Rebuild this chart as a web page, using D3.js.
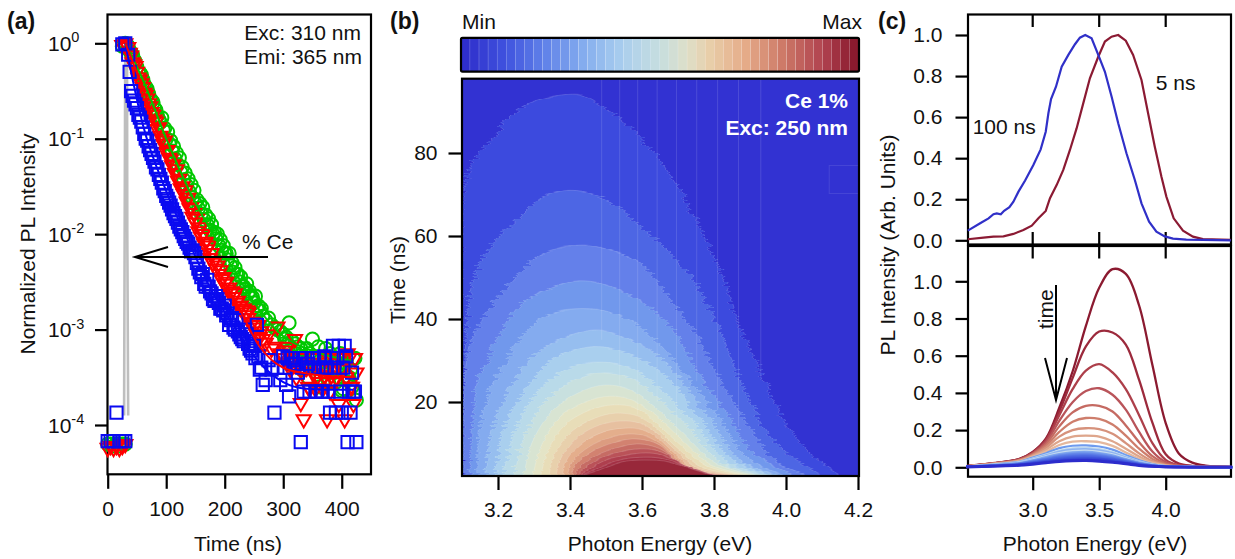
<!DOCTYPE html>
<html><head><meta charset="utf-8">
<script src="https://d3js.org/d3.v7.min.js"></script>
<style>html,body{margin:0;padding:0;background:#fff}svg{display:block}
text{font-family:"Liberation Sans",Arial,sans-serif;fill:#111}</style></head>
<body><svg id="c" width="1235" height="559"></svg>
<script>
// ---------- panel (a) ----------
const decayTimes=[25,30,35,40,45,50,55,60,65,70,75,80,85,90,95,100,105,110,115,120,125,130,135,140,145,150,155,160,165,170,175,180,185,190,195,200,205,210,215,220,225,230,235,240,245,250,255,260,265,270,275,280,285,290,295,300,305,310,315,320,325,330,335,340,345,350,355,360,365,370,375,380,385,390,395,400,405,410,415,420,425];
const greenLog=[-.03,0,-.03,-.1,-.17,-.25,-.31,-.38,-.46,-.53,-.6,-.68,-.76,-.83,-.91,-1,-1.05,-1.13,-1.21,-1.27,-1.35,-1.43,-1.49,-1.56,-1.62,-1.68,-1.73,-1.79,-1.85,-1.9,-1.96,-2,-2.05,-2.12,-2.17,-2.2,-2.27,-2.33,-2.4,-2.42,-2.5,-2.55,-2.58,-2.62,-2.67,-2.72,-2.78,-2.8,-2.86,-2.9,-2.88,-2.95,-2.98,-3,-3.02,-3.05,-3.08,-2.93,-3.12,-3.15,-3.18,-3.2,-3.28,-3.2,-3.25,-3.1,-3.3,-3.18,-3.4,-3.3,-3.45,-3.25,-3.38,-3.55,-3.3,-3.64,-3.35,-3.5,-3.42,-3.3,-3.74];
const redLog=[-.02,0,-.04,-.13,-.22,-.3,-.38,-.46,-.54,-.63,-.72,-.8,-.9,-.97,-1.05,-1.14,-1.2,-1.28,-1.36,-1.44,-1.52,-1.58,-1.66,-1.73,-1.82,-1.88,-1.97,-2.03,-2.1,-2.16,-2.25,-2.3,-2.36,-2.42,-2.47,-2.52,-2.58,-2.62,-2.66,-2.72,-2.76,-2.8,-2.85,-2.88,-2.95,-2.98,-3.05,-3.08,-3.1,-3.14,-3.05,-3.2,-3.18,-2.97,-3.25,-3.3,-3.22,-3.35,-3.28,-3.1,-3.38,-3.77,-3.94,-3.4,-3.62,-3.45,-3.62,-3.35,-3.55,-3.48,-3.94,-3.65,-3.3,-3.5,-3.78,-3.4,-3.94,-3.25,-3.6,-3.78,-3.45];
const blueLog=[-.01,0,-.12,-.5,-.6,-.68,-.78,-.88,-1,-1.08,-1.16,-1.24,-1.32,-1.42,-1.52,-1.6,-1.67,-1.74,-1.81,-1.88,-1.95,-2.02,-2.08,-2.14,-2.17,-2.24,-2.36,-2.45,-2.52,-2.48,-2.6,-2.68,-2.65,-2.72,-2.78,-2.75,-2.83,-2.9,-2.98,-2.9,-3.05,-3.1,-3,-3.15,-3.22,-3.17,-2.95,-3.42,-3.58,-3.53,-3.32,-3.42,-3.87,-3.4,-3.53,-3.28,-3.58,-3.7,-3.3,-3.36,-3.45,-4.18,-3.65,-3.4,-3.65,-3.3,-3.65,-3.4,-3.65,-3.28,-3.4,-3.87,-3.17,-3.87,-3.17,-3.87,-3.17,-4.18,-3.87,-3.65,-4.18];
const midTimes=[37.5,42.5,47.5,52.5,57.5,62.5,67.5,72.5,77.5,82.5,87.5,92.5,97.5,102.5,107.5,112.5,117.5,122.5,127.5,132.5,137.5,142.5,147.5,152.5,157.5,162.5,167.5,172.5,177.5,182.5,187.5,192.5,197.5,202.5,207.5,212.5,217.5,222.5,227.5,232.5,237.5,242.5,247.5,252.5,257.5,262.5];
const greenMid=[-.08,-.12,-.2,-.3,-.33,-.43,-.48,-.58,-.62,-.7,-.8,-.78,-.89,-.93,-1.02,-1.08,-1.15,-1.2,-1.3,-1.36,-1.42,-1.48,-1.54,-1.64,-1.68,-1.72,-1.8,-1.84,-1.9,-1.98,-2,-2.06,-2.12,-2.2,-2.2,-2.3,-2.35,-2.42,-2.45,-2.55,-2.52,-2.6,-2.66,-2.65,-2.75,-2.78];
const redMid=[-.1,-.2,-.24,-.36,-.42,-.52,-.58,-.66,-.75,-.82,-.88,-1,-1.02,-1.12,-1.22,-1.27,-1.32,-1.42,-1.5,-1.54,-1.62,-1.72,-1.78,-1.84,-1.93,-2,-2.08,-2.12,-2.2,-2.28,-2.33,-2.38,-2.45,-2.5,-2.56,-2.6,-2.62,-2.7,-2.75,-2.78,-2.82,-2.8,-2.92,-2.95,-2.95,-3.02];
const blueMid=[-.3,-.55,-.64,-.75,-.82,-.95,-1.02,-1.12,-1.2,-1.3,-1.38,-1.46,-1.55,-1.63,-1.7,-1.78,-1.84,-1.92,-1.98,-2.05,-2.1,-2.18,-2.2,-2.3,-2.4,-2.42,-2.55,-2.55,-2.62,-2.7,-2.68,-2.78,-2.8,-2.85,-2.95,-2.88,-3,-3.02,-3.08,-3.12,-3.05,-3.2,-3.25,-3.3,-3.28,-3.4];
const tailTimes=[302.5,307.5,312.5,317.5,322.5,327.5,332.5,337.5,342.5,347.5,352.5,357.5,362.5,367.5,372.5,377.5,382.5,387.5,392.5,397.5,402.5,407.5,412.5,417.5,422.5];
const greenTail=[-3.1,-3.15,-3.22,-3.3,-3.25,-3.3,-3.42,-3.35,-3.5,-3.3,-3.28,-3.38,-3.6,-3.4,-3.2,-3.55,-3.3,-3.45,-3.4,-3.25,-3.62,-3.35,-3.5,-3.6,-3.3];
const redTail=[-3.3,-3.18,-3.42,-3.35,-3.5,-3.3,-3.45,-3.35,-3.6,-3.4,-3.3,-3.5,-3.42,-3.62,-3.4,-3.3,-3.48,-3.55,-3.35,-3.3,-3.42,-3.5,-3.3,-3.6,-3.3];
const blueTail=[-3.4,-3.3,-3.3,-3.36,-3.36,-3.3,-3.4,-3.3,-3.36,-3.4,-3.3,-3.65,-3.3,-3.65,-3.4,-3.65,-3.3,-3.4,-3.3,-3.65,-3.4,-3.28,-3.65,-3.45,-3.65];
const pulseTimes=[0,5,10,15,20,25,30];
const pulseGreen=[-4.2,-4.2,-4.22,-4.2,-4.22,-4.2,-4.2];
const pulseRed=[-4.24,-4.22,-4.24,-4.22,-4.24,-4.22,-4.2];
const pulseBlue=[-4.17,-4.17,-4.17,-3.87,-4.17,-4.17,-4.17];
const fitTimes=[30,60,100,140,180,220,260,300,340,380,420];
const fitGreen=[0,-.38,-1,-1.55,-2,-2.42,-2.8,-3.07,-3.2,-3.28,-3.33];
const fitRed=[0,-.47,-1.2,-1.77,-2.28,-2.72,-3.18,-3.4,-3.46,-3.49,-3.5];
const fitBlue=[0,-.85,-1.55,-2.1,-2.62,-3,-3.35,-3.55,-3.62,-3.63,-3.63];
const irfTimes=[28,29.5,30,33,33.5,35];
const irfLog=[-3.9,-1,0,0,-2,-3.9];
const aXTicks=[0,100,200,300,400];
const aYTicks=[1,.1,.01,.001,.0001];
const aYExp=["0","-1","-2","-3","-4"];

// ---------- panel (b) ----------
const bandColors=["#3C4ADE","#4D66E4","#6480EA","#7198EC","#84ABEF","#96BEEF","#A9CFEE","#B9DAE9","#C8E0DF","#D8E4D2","#E4E4C6","#E8DDB8","#E8D0AC","#E7C0A0","#E4AE8C","#DC9C80","#D28270","#C66C64","#BA5258","#AE3F4E","#A33044","#98283A"];
const bandE=[
[3.1,3.103,3.122,3.178,3.253,3.336,3.428,3.492,3.586,3.669,3.753,3.825,3.872,3.936,3.983,4.067,4.158],
[3.1,3.122,3.15,3.197,3.261,3.325,3.392,3.483,3.594,3.742,3.817,3.872,3.928,3.992,4.103],
[3.105,3.108,3.131,3.169,3.242,3.317,3.428,3.511,3.594,3.686,3.753,3.817,3.9,3.964,4.058],
[3.122,3.128,3.144,3.169,3.214,3.269,3.317,3.428,3.539,3.658,3.714,3.769,3.836,3.908,4.019],
[3.144,3.15,3.192,3.261,3.325,3.414,3.511,3.622,3.733,3.817,3.892,3.992],
[3.169,3.183,3.247,3.317,3.456,3.539,3.65,3.714,3.789,3.872,3.975],
[3.197,3.214,3.275,3.358,3.456,3.553,3.678,3.761,3.853,3.956],
[3.219,3.242,3.303,3.386,3.469,3.567,3.664,3.747,3.839,3.942],
[3.247,3.269,3.331,3.414,3.483,3.567,3.65,3.733,3.822,3.928],
[3.272,3.294,3.353,3.428,3.497,3.567,3.636,3.719,3.808,3.914],
[3.297,3.319,3.372,3.442,3.511,3.572,3.636,3.706,3.794,3.9],
[3.319,3.339,3.386,3.456,3.517,3.581,3.636,3.697,3.781,3.886],
[3.342,3.358,3.406,3.469,3.525,3.586,3.636,3.692,3.767,3.872],
[3.361,3.378,3.422,3.483,3.539,3.594,3.642,3.689,3.756,3.858],
[3.378,3.394,3.439,3.494,3.553,3.603,3.644,3.686,3.744,3.844],
[3.392,3.408,3.453,3.506,3.567,3.611,3.65,3.686,3.739,3.831],
[3.403,3.419,3.464,3.517,3.575,3.622,3.656,3.686,3.733,3.817],
[3.411,3.433,3.475,3.528,3.586,3.628,3.661,3.692,3.733,3.811],
[3.419,3.444,3.486,3.539,3.594,3.636,3.672,3.706,3.747,3.806],
[3.425,3.456,3.494,3.544,3.6,3.642,3.683,3.719,3.8],
[3.428,3.467,3.506,3.553,3.608,3.65,3.692,3.733,3.797],
[3.431,3.475,3.517,3.561,3.617,3.658,3.706,3.747,3.794]];
const bandT=[
[2.2,69.4,76.6,83.1,90.4,93.3,94,91.1,84.8,75.9,63.1,50.1,37.8,26,17.3,7.7,2.4],
[2.2,46.3,53.5,59,64.6,69.4,71,69.4,62.7,49.4,37.3,25.3,15.7,8.4,2.4],
[2.2,27,35.7,41.4,49.4,55.4,57.8,56.6,53.5,43.9,36.1,25.3,14,6,2.4],
[2.2,13.3,25.3,30.1,37.3,43.9,46.3,49.2,47,40.2,33.7,25.3,17.3,7.7,2.4],
[2.2,14.5,25.3,34.9,40.5,42.4,41.7,36.1,25.3,15.7,6.5,2.4],
[2.2,13.3,25.3,32.5,37.3,36.1,30.8,24.6,15.7,6,2.4],
[2.2,13.3,22.9,30.6,33.3,32,25.3,15.7,6,2.4],
[2.2,12,21.7,27.7,29.6,28.2,22.2,14.5,5.5,2.4],
[2.2,10.8,20,25.3,27,25.8,20.5,13.3,5.3,2.4],
[2.2,10.1,18.1,22.4,24.1,22.9,18.8,12,5.1,2.4],
[2.2,9.2,16.4,20,21.4,20.5,16.9,11.3,4.8,2.4],
[2.2,8.4,14.5,18.1,19.3,18.6,15.2,10.4,4.6,2.4],
[2.2,7.7,13,16.1,17.3,16.6,14,9.4,4.3,2.4],
[2.2,7,11.6,14.5,15.4,14.9,12.5,8.7,4.1,2.4],
[2.2,6.5,10.4,12.8,13.7,13.3,11.3,8,3.9,2.4],
[2.2,5.8,9.2,11.3,12.3,11.8,10.1,7.2,3.9,2.4],
[2.2,5.3,8.2,10.1,11.1,10.6,9.2,6.5,3.6,2.4],
[2.2,4.8,7.2,8.9,9.9,9.4,8.2,6,3.6,2.4],
[2.2,4.3,6.5,8,8.7,8.4,7.2,5.3,3.4,2.4],
[2.2,3.9,5.8,7,7.7,7.5,6.3,4.8,2.4],
[2.2,3.6,5.1,6.3,6.7,6.5,5.5,4.1,2.4],
[2.2,3.4,4.8,5.8,6,5.8,4.8,3.6,2.4]];
const seamE=[3.488,3.538,3.588,3.642,3.696,3.752,3.81,3.868,3.93];
const seamLow=[35,24,17,20,12,25,18,14,26];
const bXTicks=[3.2,3.4,3.6,3.8,4.0,4.2];
const bYTicks=[20,40,60,80];
const rampStops=["#2E2ECB","#3F52DE","#5F80E8","#83ABEE","#A8CDEE","#C6DEDF","#DEDFC8","#E8CDA8","#E5AB88","#CC7766","#B0424F","#8A1A2E"];
const rampAt=[0,.1,.2,.3,.4,.5,.57,.63,.72,.82,.92,1];

// ---------- panel (c) ----------
const late100E=[2.512,2.605,2.668,2.705,2.73,2.76,2.785,2.825,2.855,2.893,2.943,3.005,3.06,3.098,3.118,3.138,3.175,3.218,3.268,3.318,3.355,3.395,3.443,3.493,3.543,3.593,3.643,3.705,3.768,3.818,3.875,3.93,3.993,4.055,4.155,4.28,4.49];
const late100V=[.047,.083,.107,.127,.131,.127,.144,.161,.188,.237,.291,.367,.443,.529,.619,.688,.748,.846,.903,.955,.987,1,.984,.903,.821,.7,.57,.424,.294,.18,.091,.042,.019,.008,.003,.002,0];
const early5E=[2.512,2.63,2.705,2.78,2.855,2.93,2.993,3.043,3.098,3.13,3.18,3.23,3.28,3.33,3.38,3.43,3.493,3.543,3.593,3.643,3.7,3.755,3.818,3.868,3.918,3.968,4.005,4.06,4.13,4.205,4.28,4.49];
const early5V=[.005,.013,.018,.019,.031,.05,.071,.107,.143,.205,.269,.343,.44,.545,.667,.789,.894,.968,.992,1,.972,.903,.781,.618,.456,.31,.213,.107,.047,.018,.006,.002];
const cGridE=[2.5,2.7,2.9,3.0,3.1,3.2,3.3,3.4,3.5,3.6,3.7,3.8,3.9,4.0,4.1,4.2,4.3,4.5];
const cCurves=[
[.006,.022,.045,.082,.155,.32,.515,.76,.965,1.065,1.04,.87,.55,.238,.073,.025,.009,.002],
[.006,.021,.044,.08,.15,.30,.48,.65,.73,.725,.66,.47,.24,.07,.02,.008,.003,.001],
[.006,.021,.043,.078,.145,.28,.42,.52,.555,.51,.42,.28,.13,.04,.012,.005,.002,.001],
[.006,.02,.042,.075,.135,.25,.35,.41,.425,.39,.31,.19,.085,.028,.009,.004,.002,.001],
[.005,.02,.04,.072,.125,.22,.295,.33,.33,.30,.225,.135,.06,.02,.007,.003,.002,.001],
[.005,.019,.038,.068,.115,.19,.245,.265,.26,.23,.17,.1,.045,.015,.006,.003,.002,.001],
[.005,.018,.036,.064,.105,.165,.2,.21,.205,.18,.13,.075,.033,.012,.005,.003,.002,.001],
[.005,.017,.034,.06,.095,.14,.165,.17,.165,.14,.1,.058,.026,.01,.004,.002,.002,.001],
[.004,.016,.032,.056,.085,.12,.138,.14,.135,.115,.08,.046,.021,.008,.004,.002,.001,.001],
[.004,.015,.03,.052,.076,.103,.116,.118,.112,.095,.066,.038,.018,.007,.003,.002,.001,.001],
[.004,.014,.028,.047,.068,.09,.102,.105,.098,.082,.057,.032,.015,.006,.003,.002,.001,.001],
[.004,.013,.026,.044,.064,.084,.095,.098,.091,.076,.053,.03,.014,.006,.003,.002,.001,.001],
[.003,.012,.024,.041,.059,.077,.087,.09,.083,.07,.048,.027,.013,.005,.003,.002,.001,.001],
[.003,.012,.023,.038,.055,.071,.08,.083,.077,.064,.044,.025,.012,.005,.002,.002,.001,.001],
[.003,.011,.021,.035,.05,.066,.074,.077,.071,.059,.041,.023,.011,.005,.002,.001,.001,.001],
[.003,.01,.02,.032,.046,.061,.069,.071,.066,.055,.038,.021,.01,.004,.002,.001,.001,.001],
[.003,.01,.018,.03,.043,.056,.063,.065,.06,.05,.035,.019,.009,.004,.002,.001,.001,.001],
[.002,.009,.017,.027,.039,.051,.058,.06,.055,.046,.032,.017,.008,.003,.002,.001,.001,.001],
[.002,.008,.015,.025,.035,.046,.052,.054,.05,.041,.029,.016,.007,.003,.002,.001,.001,.001],
[.002,.008,.014,.023,.032,.042,.047,.049,.045,.037,.026,.014,.006,.003,.001,.001,.001,.001],
[.002,.007,.013,.021,.029,.038,.043,.044,.041,.034,.023,.013,.006,.002,.001,.001,.001,.001],
[.002,.006,.012,.019,.026,.034,.038,.04,.037,.03,.021,.011,.005,.002,.001,.001,.001,.001],
[.002,.006,.011,.017,.024,.031,.035,.036,.033,.027,.019,.01,.005,.002,.001,.001,.001,.001]];
const cCurveColors=["#8B1A30","#9C2A3C","#AD3F4A","#B9545A","#C56A62","#CE7E6C","#D6927C","#DEA68C","#E4B89E","#6E9BEE","#BCD8F0","#8FB3F0","#C6DCF0","#7FA6EE","#6F95EC","#6284E8","#5676E6","#4C68E2","#445CDE","#3D50DA","#3746D6","#333CD2","#2C2CCC"];
const cXTicks=[3.0,3.5,4.0];
const cYTicksTop=[0,.2,.4,.6,.8,1];
const cYTicksBot=[0,.2,.4,.6,.8,1];

// ---------- drawing ----------
const svg=d3.select("#c");
const FS=21, INK="#000";
function frame(x0,y0,x1,y1,r){svg.append("rect").attr("x",x0).attr("y",y0).attr("width",x1-x0).attr("height",y1-y0).attr("rx",r||0).attr("fill","none").attr("stroke",INK).attr("stroke-width",2.2);}
function styleAxis(g){
  g.select(".domain").remove();
  g.selectAll(".tick line").attr("stroke",INK).attr("stroke-width",2.2);
  g.selectAll(".tick text").attr("font-size",FS).attr("fill","#111").style("font-family",'"Liberation Sans",Arial,sans-serif');
}
function label(x,y,t,o={}){const e=svg.append("text").attr("x",x).attr("y",y).attr("font-size",o.size||FS).attr("text-anchor",o.anchor||"start").attr("font-weight",o.weight||"normal").text(t);
  if(o.rot)e.attr("transform",`rotate(-90 ${x} ${y})`); if(o.fill)e.style("fill",o.fill); return e;}

// (a)
const ax=d3.scaleLinear().domain([0,450]).range([107.7,371]);
const ay=d3.scaleLog().domain([1,1e-4]).range([43.3,425]);
const yLog=v=>ay(Math.pow(10,v));
svg.append("g").attr("transform","translate(0,474.3)").call(d3.axisBottom(ax).tickValues(aXTicks).tickSize(14.5).tickPadding(12).tickFormat(d3.format("d"))).call(styleAxis);
svg.append("g").attr("transform","translate(107.5,0)").call(d3.axisLeft(ay).tickValues(aYTicks).tickSize(12.5).tickFormat("")).call(styleAxis);
aYTicks.forEach((t,i)=>{const e=label(48,ay(t)+7.5,"10");e.append("tspan").attr("font-size",14.5).attr("dy",-8.5).text(aYExp[i]);});
frame(107.5,14.5,371,474.3);
const irfLine=d3.line().x((d,i)=>ax(irfTimes[i])).y(d=>yLog(d));
svg.append("path").attr("d",irfLine(irfLog)).attr("fill","none").attr("stroke","#BEBEBE").attr("stroke-width",2.6);
const sym={c:d3.symbol(d3.symbolCircle,135)(),s:d3.symbol(d3.symbolSquare,150)(),t:d3.symbol(d3.symbolTriangle,88)()};
function scatter(ts,vs,k,col){
  svg.append("g").selectAll("path").data(vs).join("path").attr("d",sym[k]).attr("fill","none").attr("stroke",col).attr("stroke-width",2)
   .attr("transform",(d,i)=>`translate(${ax(ts[i])},${yLog(d)})`+(k==="t"?" rotate(180)":""));
}
const fit=d3.line().x((d,i)=>ax(fitTimes[i])).y(d=>yLog(d)).curve(d3.curveMonotoneX);
const GR="#00C800",RD="#FF0000",BL="#0A0AF0";
scatter(pulseTimes,pulseGreen,"c",GR);scatter(decayTimes,greenLog,"c",GR);scatter(midTimes,greenMid,"c",GR);scatter(tailTimes,greenTail,"c",GR);
scatter(pulseTimes,pulseRed,"t",RD);scatter(decayTimes,redLog,"t",RD);scatter(midTimes,redMid,"t",RD);scatter(tailTimes,redTail,"t",RD);
svg.append("path").attr("d",fit(fitGreen)).attr("fill","none").attr("stroke",GR).attr("stroke-width",2);
svg.append("path").attr("d",fit(fitBlue)).attr("fill","none").attr("stroke","#0000FF").attr("stroke-width",2);
scatter(pulseTimes,pulseBlue,"s",BL);scatter(decayTimes,blueLog,"s",BL);scatter(midTimes,blueMid,"s",BL);scatter(tailTimes,blueTail,"s",BL);
svg.append("path").attr("d",fit(fitRed)).attr("fill","none").attr("stroke",RD).attr("stroke-width",2);
svg.append("path").attr("d","M268 257H135M168 247L135 257L168 267").attr("fill","none").attr("stroke",INK).attr("stroke-width",2);
label(242,249,"% Ce");
label(361,40,"Exc: 310 nm",{anchor:"end"});label(362,63.5,"Emi: 365 nm",{anchor:"end"});
label(7,29,"(a)",{weight:"bold",size:23});
label(35,244,"Normalized PL Intensity",{rot:1,anchor:"middle"});
label(238,550.7,"Time (ns)",{anchor:"middle"});

// (b)
const bx=d3.scaleLinear().domain([3.1,4.2]).range([462,858]);
const by=d3.scaleLinear().domain([20,80]).range([402,153]);
const ramp=d3.scaleLinear().domain(rampAt).range(rampStops).interpolate(d3.interpolateRgb);
const defs=svg.append("defs");
defs.append("clipPath").attr("id","bclip").append("rect").attr("x",462).attr("y",79).attr("width",397).attr("height",397);
function jag(id,freqY,scale){
  const f=defs.append("filter").attr("id",id).attr("filterUnits","userSpaceOnUse").attr("x",440).attr("y",60).attr("width",440).attr("height",440).attr("color-interpolation-filters","sRGB");
  f.append("feTurbulence").attr("type","fractalNoise").attr("baseFrequency",`0.015 ${freqY}`).attr("numOctaves",2).attr("seed",4).attr("result","n");
  f.append("feColorMatrix").attr("in","n").attr("type","matrix").attr("values","1 0 0 0 0  0 0 0 0 .5  0 0 0 0 0  0 0 0 0 1").attr("result","m");
  f.append("feDisplacementMap").attr("in","SourceGraphic").attr("in2","m").attr("scale",scale).attr("xChannelSelector","R").attr("yChannelSelector","G");
}
jag("jagOuter",.45,16);jag("jagInner",.35,5);
const plot=svg.append("g").attr("clip-path","url(#bclip)");
plot.append("rect").attr("x",462).attr("y",79).attr("width",397).attr("height",397).attr("fill","#3232D2");
const bArea=d3.area().x(d=>bx(d[0])).y0(by(0)).y1(d=>by(d[1])).curve(d3.curveCatmullRom.alpha(.5));
const gOuter=plot.append("g").attr("filter","url(#jagOuter)"), gInner=plot.append("g").attr("filter","url(#jagInner)");
bandE.forEach((es,b)=>{
  (b<9?gOuter:gInner).append("path").attr("d",bArea(es.map((e,i)=>[e,bandT[b][i]]))).attr("fill",bandColors[b]).attr("stroke","#fff").attr("stroke-opacity",.2).attr("stroke-width",.8);
});
seamE.forEach((e,i)=>plot.append("line").attr("x1",bx(e)).attr("x2",bx(e)).attr("y1",79).attr("y2",by(seamLow[i])).attr("stroke","#fff").attr("stroke-opacity",.13).attr("stroke-width",1));
plot.append("rect").attr("x",bx(4.12)).attr("y",by(77)).attr("width",30).attr("height",28).attr("fill","none").attr("stroke","#fff").attr("stroke-opacity",.1);
svg.append("g").attr("transform","translate(0,476)").call(d3.axisBottom(bx).tickValues(bXTicks).tickSize(14).tickPadding(12).tickFormat(d3.format(".1f"))).call(styleAxis);
svg.append("g").attr("transform","translate(462,0)").call(d3.axisLeft(by).tickValues(bYTicks).tickSize(13.5).tickPadding(11).tickFormat(d3.format("d"))).call(styleAxis);
frame(462,78.7,859,476);
const nSteps=44, barX=d3.scaleLinear().domain([0,nSteps]).range([461,859]);
svg.append("g").selectAll("rect").data(d3.range(nSteps)).join("rect").attr("x",d=>barX(d)).attr("y",38).attr("width",(398/nSteps)-.2).attr("height",33.5).attr("fill",d=>ramp(d/(nSteps-1)));
frame(461,37.8,859,71.6,1.5);
label(462,29,"Min");label(862,29,"Max",{anchor:"end"});
label(848,108,"Ce 1%",{anchor:"end",weight:"bold",fill:"#fff"});
label(848,135,"Exc: 250 nm",{anchor:"end",weight:"bold",fill:"#fff"});
label(390,29,"(b)",{weight:"bold",size:23});
label(405,280,"Time (ns)",{rot:1,anchor:"middle"});
label(660,550.7,"Photon Energy (eV)",{anchor:"middle"});

// (c)
const cx=d3.scaleLinear().domain([3,4]).range([1032.7,1165.7]);
const cyT=d3.scaleLinear().domain([0,1]).range([240.3,35]);
const cyB=d3.scaleLinear().domain([0,1]).range([467.3,281.3]);
function cInner(y,dir){svg.append("g").selectAll("line").data(cXTicks).join("line").attr("x1",d=>cx(d)).attr("x2",d=>cx(d)).attr("y1",y).attr("y2",y+dir*12.5).attr("stroke",INK).attr("stroke-width",2.2);}
cInner(14.5,1);cInner(244.5,-1);cInner(246,1);
svg.append("g").attr("transform","translate(0,476.7)").call(d3.axisBottom(cx).tickValues(cXTicks).tickSize(13.5).tickPadding(12).tickFormat(d3.format(".1f"))).call(styleAxis);
svg.append("g").attr("transform","translate(968,0)").call(d3.axisLeft(cyT).tickValues(cYTicksTop).tickSize(12.5).tickPadding(13).tickFormat(d3.format(".1f"))).call(styleAxis);
svg.append("g").attr("transform","translate(968,0)").call(d3.axisLeft(cyB).tickValues(cYTicksBot).tickSize(12.5).tickPadding(13).tickFormat(d3.format(".1f"))).call(styleAxis);
frame(968,14.5,1231,244.5);frame(968,246,1231,476.7);
const lineTop=(es)=>d3.line().x((d,i)=>cx(es[i])).y(d=>cyT(d));
svg.append("path").attr("d",lineTop(early5E)(early5V)).attr("fill","none").attr("stroke","#8B1A33").attr("stroke-width",2.2);
svg.append("path").attr("d",lineTop(late100E)(late100V)).attr("fill","none").attr("stroke","#3030C8").attr("stroke-width",2.2);
const lineBot=d3.line().x((d,i)=>cx(cGridE[i])).y(d=>cyB(d)).curve(d3.curveCatmullRom.alpha(.5));
cCurves.forEach((vs,i)=>svg.append("path").attr("d",lineBot(vs)).attr("fill","none").attr("stroke",cCurveColors[i]).attr("stroke-width",i===22?3:(i<9?2.3:2.2)));
svg.append("path").attr("d","M1056 285V400M1045 358L1056 400L1067 358").attr("fill","none").attr("stroke",INK).attr("stroke-width",2);
label(1053,329,"time",{rot:1});
label(1155.7,90,"5 ns");label(972.7,134,"100 ns");
label(878,29,"(c)",{weight:"bold",size:23});
label(894.5,245,"PL Intensity (Arb. Units)",{rot:1,anchor:"middle"});
label(1095,550.7,"Photon Energy (eV)",{anchor:"middle"});
</script></body></html>
